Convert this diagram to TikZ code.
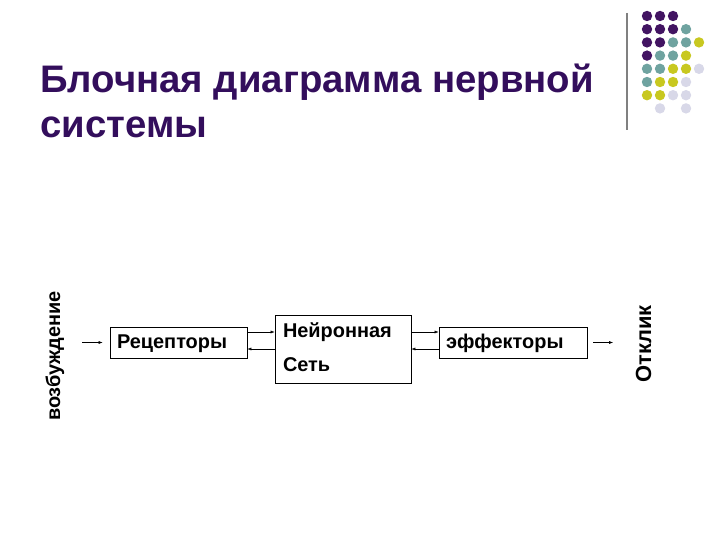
\documentclass[tikz,border=0pt]{standalone}
\usepackage{fontspec}
\setmainfont{Liberation Sans}
\usetikzlibrary{positioning}
\usetikzlibrary{arrows.meta}
\definecolor{titlepurple}{RGB}{51,14,92}
\definecolor{dotpurple}{RGB}{66,20,98}
\definecolor{dotteal}{RGB}{111,163,160}
\definecolor{dotyellow}{RGB}{200,200,32}
\definecolor{dotlilac}{RGB}{216,216,232}
\tikzset{
  block/.style={draw,thick,minimum height=31bp,inner xsep=7bp,align=left,
    text height=14bp,text depth=3bp,
    font=\fontsize{20}{35}\selectfont\bfseries},
  side/.style={font=\fontsize{20}{24}\selectfont\bfseries,rotate=90,inner sep=0pt},
  dotP/.style={fill=dotpurple},
  dotT/.style={fill=dotteal},
  dotY/.style={fill=dotyellow},
  dotL/.style={fill=dotlilac},
  dotN/.style={}
}

\begin{document}
\begin{tikzpicture}[x=1bp,y=1bp,thin,>={Latex[length=4bp,width=3bp]}]
\useasboundingbox[fill=white] (0,0) rectangle (720,-540);
% title
\node (title) [anchor=base west,align=left,inner sep=0pt,text=titlepurple,
  font=\fontsize{38.5}{46}\selectfont\bfseries] at (40,-138)
  {Блочная диаграмма нервной\\системы};
% decoration top right
\draw[line width=2.5bp,gray] (627,-13) -- (627,-130);
\foreach \row/\cols in {0/{P,P,P},1/{P,P,P,T},2/{P,P,T,T,Y},3/{P,T,T,Y},
  4/{T,T,Y,Y,L},5/{T,Y,Y,L},6/{Y,Y,L,L},7/{N,L,N,L}}
  \foreach \c [count=\i from 0] in \cols
    \path[dot\c] (647+13*\i,-16-13.2*\row) circle (5.2);
% blocks
\node (rec) [block,text width=123bp] at (178.5,-342.5) {Рецепторы};
\node (net) [block,text width=120bp,inner xsep=8bp,minimum height=68bp,
  text height=15bp,text depth=39bp] at (343,-349) {Нейронная\\Сеть};
\node (eff) [block,text width=134bp] at (513,-342.5) {эффекторы};
\node (exc) [side,anchor=base] at (60,-356) {возбуждение};
\node (resp) [side,anchor=base,font=\fontsize{22}{26}\selectfont\bfseries]
  at (651,-344) {Отклик};
\coordinate (in) at (82,-342.5);
\coordinate (out) at (613,-342.5);
\coordinate (rn) at ([yshift=10.5bp]rec.east);
\coordinate (nr) at ([yshift=-6.5bp]rec.east);
\coordinate (ne) at ([yshift=10.5bp]eff.west);
\coordinate (en) at ([yshift=-6.5bp]eff.west);
\draw
  (in) edge [->,shorten >=7bp] (rec.west)
  (rn) edge [->] (rn -| net.west)
  (nr -| net.west) edge [->] (nr)
  (ne -| net.east) edge [->] (ne)
  (en) edge [->] (en -| net.east)
  (eff.east) edge [->,shorten <=6bp] (out);
\end{tikzpicture}
\end{document}
